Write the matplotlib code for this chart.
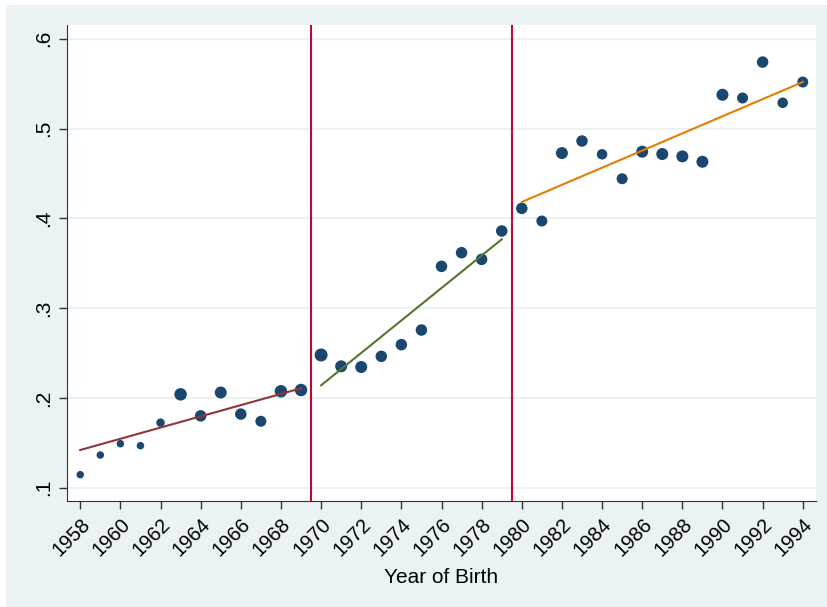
import matplotlib.pyplot as plt

# binned share by year of birth
years = list(range(1958, 1995))
share = [0.1145, 0.1364, 0.149, 0.1468, 0.1724, 0.204, 0.180, 0.206, 0.182, 0.174,
         0.2074, 0.2088, 0.2478, 0.2352, 0.2344, 0.2463, 0.2593, 0.2756, 0.3465, 0.3617,
         0.3543, 0.3859, 0.4111, 0.397, 0.4727, 0.4861, 0.4713, 0.4441, 0.4742, 0.4716,
         0.469, 0.463, 0.5376, 0.534, 0.574, 0.5287, 0.5518]
# marker diameters (px), points are weighted
dot_px = [7.5, 7.5, 7.5, 7.5, 8.5, 12.5, 11.5, 12, 11.5, 11, 12.5, 12.5, 13, 12, 12, 11.5, 11.5, 11.5, 11.5, 11.5,
          11.5, 11.5, 11.5, 11, 12, 11.5, 10.5, 11, 12, 12, 12, 12, 12, 11, 11.5, 10.5, 11]

# linear fits per segment (endpoints)
fit_x = [(1958, 1969), (1970, 1979), (1980, 1994)]
fit_y = [(0.142, 0.2107), (0.214, 0.3766), (0.4182, 0.5518)]
fit_colors = ["#90353B", "#55752F", "#E37E00"]

breaks = [1969.5, 1979.5]

bg = "#EAF2F3"
navy = "#1A476F"

plt.rcParams['font.family'] = ['Liberation Sans', 'DejaVu Sans']

fig = plt.figure(figsize=(8.28, 6.07), dpi=100)
fig.patch.set_facecolor("white")
fig.patches.append(plt.Rectangle((6 / 828, 0), 822 / 828, 602 / 607, transform=fig.transFigure,
                                 facecolor=bg, edgecolor="none", zorder=-10))

ax = fig.add_axes([67 / 828, (607 - 501) / 607, (816 - 67) / 828, (501 - 25) / 607])
ax.set_facecolor("white")

for y in [0.1, 0.2, 0.3, 0.4, 0.5, 0.6]:
    ax.axhline(y, color=bg, lw=1.5, zorder=0)

sizes = [(d * 0.72) ** 2 for d in dot_px]
ax.scatter(years, share, s=sizes, color=navy, edgecolors="none", zorder=3)

for (x0, x1), (y0, y1), c in zip(fit_x, fit_y, fit_colors):
    ax.plot([x0, x1], [y0, y1], color=c, lw=1.5, zorder=4)

for b in breaks:
    ax.axvline(b, color="#C10534", lw=1.5, zorder=5)

ax.set_xlim(1957.34, 1994.66)
ax.set_ylim(0.0852, 0.6153)

ax.set_xticks(range(1958, 1995, 2))
ax.set_xticklabels([str(y) for y in range(1958, 1995, 2)], rotation=45, ha="right",
                   rotation_mode="anchor", fontsize=14.5)
ax.set_yticks([0.1, 0.2, 0.3, 0.4, 0.5, 0.6])
ax.set_yticklabels([".1", ".2", ".3", ".4", ".5", ".6"], rotation=90, va="center", fontsize=15)

ax.tick_params(axis="both", length=6, width=1, color="#333333", pad=4)
ax.spines["top"].set_visible(False)
ax.spines["right"].set_visible(False)
ax.spines["left"].set_color("#333333")
ax.spines["bottom"].set_color("#333333")

ax.set_xlabel("Year of Birth", fontsize=15, labelpad=6)

fig.savefig("out.png", dpi=100, facecolor=fig.get_facecolor())
